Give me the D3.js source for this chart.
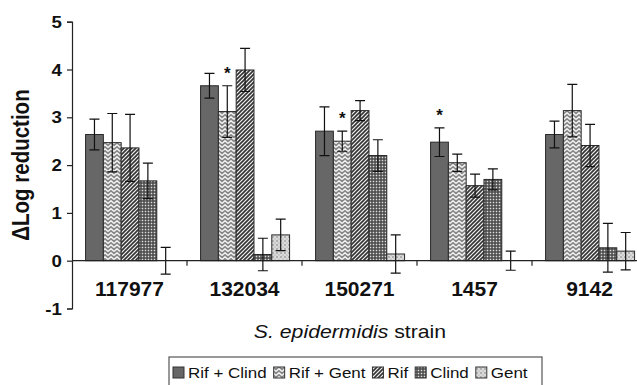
<!DOCTYPE html>
<html><head><meta charset="utf-8">
<script src="https://cdn.jsdelivr.net/npm/d3@7"></script>
<style>
html,body{margin:0;padding:0;background:#fff;}
svg{display:block;font-family:"Liberation Sans",Arial,Helvetica,sans-serif;}
</style></head>
<body>
<svg id="chart" width="637" height="385"></svg>
<script>
// ---- data ----
const categories = ["117977", "132034", "150271", "1457", "9142"];
const seriesNames = ["Rif + Clind", "Rif + Gent", "Rif", "Clind", "Gent"];
const rifClind    = [2.64, 3.66, 2.71, 2.48, 2.64];
const rifClindErr = [0.32, 0.26, 0.51, 0.30, 0.28];
const rifGent     = [2.47, 3.12, 2.50, 2.05, 3.14];
const rifGentErr  = [0.61, 0.54, 0.21, 0.18, 0.55];
const rif         = [2.36, 3.99, 3.14, 1.57, 2.41];
const rifErr      = [0.70, 0.45, 0.21, 0.24, 0.44];
const clind       = [1.67, 0.13, 2.20, 1.70, 0.27];
const clindErr    = [0.37, 0.34, 0.33, 0.22, 0.51];
const gent        = [0.00, 0.54, 0.14, 0.00, 0.20];
const gentErr     = [0.28, 0.33, 0.40, 0.20, 0.39];
const yTicks = [-1, 0, 1, 2, 3, 4, 5];
const significant = [["132034", "Rif + Gent"], ["150271", "Rif + Gent"], ["1457", "Rif + Clind"]];
const yTitle = "ΔLog reduction";
const xTitleItalic = "S. epidermidis";
const xTitleRest = " strain";

const valueSets = [rifClind, rifGent, rif, clind, gent];
const errSets = [rifClindErr, rifGentErr, rifErr, clindErr, gentErr];
const rows = [];
categories.forEach((c, ci) => seriesNames.forEach((s, si) => {
  rows.push({cat: c, ser: s, si: si, v: valueSets[si][ci], e: errSets[si][ci]});
}));

const svg = d3.select("#chart");
const font = '"Liberation Sans",Arial,Helvetica,sans-serif';

// ---- patterns ----
const defs = svg.append("defs");
function pat(id, w, h, bg) {
  const p = defs.append("pattern").attr("id", id).attr("patternUnits", "userSpaceOnUse")
    .attr("width", w).attr("height", h);
  p.append("rect").attr("width", w).attr("height", h).attr("fill", bg);
  return p;
}
// Rif + Gent : chevrons
let p1 = pat("p-rg", 6, 4, "#868686");
p1.append("path").attr("d", "M0,3.5 L3,0.8 L6,3.5").attr("fill", "none").attr("stroke", "#f4f4f4").attr("stroke-width", 1.4);
// Rif : diagonal hatch
let p2 = pat("p-rif", 4, 4, "#f0f0f0");
p2.append("path").attr("d", "M-1,1 L1,-1 M0,4 L4,0 M3,5 L5,3").attr("stroke", "#333").attr("stroke-width", 1.6);
// Clind : checker net
let p3 = pat("p-cl", 3, 3, "#444");
p3.append("rect").attr("x", 0.7).attr("y", 0.7).attr("width", 1.6).attr("height", 1.6).attr("fill", "#dcdcdc");
// Gent : dots
let p4 = pat("p-ge", 4, 4, "#dadada");
p4.append("circle").attr("cx", 1).attr("cy", 1).attr("r", 0.7).attr("fill", "#666");
p4.append("circle").attr("cx", 3).attr("cy", 3).attr("r", 0.6).attr("fill", "#999");

const fills = ["#676767", "url(#p-rg)", "url(#p-rif)", "url(#p-cl)", "url(#p-ge)"];

// ---- scales ----
const y = d3.scaleLinear().domain([-1, 5]).range([308.5, 21.7]);
const x0 = d3.scaleBand().domain(categories).range([72, 647]);
const bw = x0.bandwidth();
const x1 = d3.scaleBand().domain(seriesNames).range([bw * 0.118, bw * 0.892]);

// helper for horizontally stretched text
function stext(g, x, yy, txt, size, weight, anchor, sx) {
  return g.append("text").attr("transform", `translate(${x},${yy}) scale(${sx},1)`)
    .attr("font-size", size).attr("font-weight", weight).attr("text-anchor", anchor)
    .attr("font-family", font).attr("fill", "#111").text(txt);
}

// ---- bars ----
const gBars = svg.append("g");
gBars.selectAll("rect").data(rows).join("rect")
  .attr("x", d => x0(d.cat) + x1(d.ser))
  .attr("width", x1.bandwidth())
  .attr("y", d => y(Math.max(0, d.v)))
  .attr("height", d => Math.abs(y(d.v) - y(0)))
  .attr("fill", d => fills[d.si])
  .attr("stroke", "#2a2a2a").attr("stroke-width", 1);

// ---- error bars ----
const cap = 5;
const gErr = svg.append("g").attr("stroke", "#111").attr("stroke-width", 1.2).attr("fill", "none");
rows.forEach(d => {
  const cx = x0(d.cat) + x1(d.ser) + x1.bandwidth() / 2;
  const y1 = y(d.v + d.e), y2 = y(d.v - d.e);
  gErr.append("path").attr("d", `M${cx},${y1}V${y2}M${cx - cap},${y1}H${cx + cap}M${cx - cap},${y2}H${cx + cap}`);
});

// ---- significance stars ----
significant.forEach(([c, s]) => {
  const d = rows.find(r => r.cat === c && r.ser === s);
  const cx = x0(c) + x1(s) + x1.bandwidth() / 2;
  svg.append("text").attr("x", cx).attr("y", y(d.v + d.e) - 7)
    .attr("text-anchor", "middle").attr("font-size", 17).attr("font-weight", "bold")
    .attr("font-family", font).attr("fill", "#111").text("*");
});

// ---- y axis ----
const yAxis = svg.append("g").attr("transform", "translate(72,0)")
  .call(d3.axisLeft(y).tickValues(yTicks).tickSize(5).tickSizeOuter(5).tickFormat(d3.format("d")));
yAxis.selectAll("path,line").attr("stroke", "#222").attr("stroke-width", 1.2);
yAxis.selectAll("text").remove();
yTicks.forEach(t => {
  stext(yAxis, -10, y(t) + 6, String(t), 17, "bold", "end", 1.1);
});

// ---- x axis ----
const xg = svg.append("g");
xg.append("line").attr("x1", 72).attr("x2", 647).attr("y1", y(0)).attr("y2", y(0))
  .attr("stroke", "#222").attr("stroke-width", 1.2);
categories.slice(1).forEach(c => {
  xg.append("line").attr("x1", x0(c)).attr("x2", x0(c)).attr("y1", y(0)).attr("y2", y(0) + 5)
    .attr("stroke", "#222").attr("stroke-width", 1.2);
});
categories.forEach(c => {
  stext(xg, x0(c) + bw / 2, 296, c, 21, "bold", "middle", 1.0);
});

// ---- axis titles ----
svg.append("text").attr("transform", "translate(29,165) rotate(-90) scale(1,1.15)")
  .attr("text-anchor", "middle").attr("font-size", 20.5).attr("font-weight", "bold")
  .attr("font-family", font).attr("fill", "#111").text(yTitle);

const xt = svg.append("text").attr("transform", "translate(350,338) scale(1.18,1)")
  .attr("text-anchor", "middle").attr("font-size", 18).attr("font-family", font).attr("fill", "#111");
xt.append("tspan").attr("font-style", "italic").text(xTitleItalic);
xt.append("tspan").text(xTitleRest);

// ---- legend ----
const lg = svg.append("g");
lg.append("rect").attr("x", 169).attr("y", 357).attr("width", 373).attr("height", 40)
  .attr("fill", "none").attr("stroke", "#555").attr("stroke-width", 1.2);
let lx = 173;
const lsx = 1.17;
seriesNames.forEach((s, i) => {
  lg.append("rect").attr("x", lx).attr("y", 367).attr("width", 11).attr("height", 11)
    .attr("fill", fills[i]).attr("stroke", "#333").attr("stroke-width", 1);
  const t = stext(lg, lx + 15, 378, s, 14.5, "normal", "start", lsx);
  const w = t.node().getComputedTextLength() * lsx;
  lx += 15 + w + 7;
});
</script>
</body></html>
